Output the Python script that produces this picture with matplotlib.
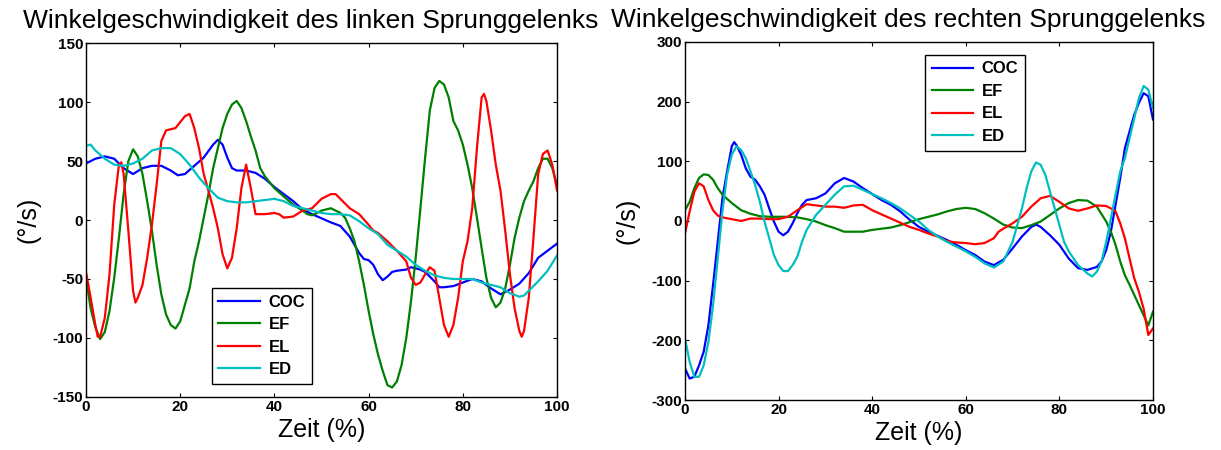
import matplotlib
matplotlib.use("Agg")
import matplotlib.pyplot as plt

plt.rcParams['font.family'] = ['Liberation Sans', 'DejaVu Sans']
plt.rcParams['axes.unicode_minus'] = False

# ---- Left ankle angular velocity (deg/s) over gait cycle (%) ----
l_coc_x = [0, 2, 4, 6, 8, 10, 12, 14, 16, 18, 19.5, 21, 23, 25, 27, 28, 29, 30, 31, 32, 34, 36, 38, 40,
           42, 44, 46, 48, 50, 52, 54, 56, 58, 59, 60, 61, 62, 63, 64, 65, 66, 68, 69, 71, 72, 74, 75, 76,
           78, 80, 82, 84, 86, 88, 90, 92, 94, 96, 98, 100]
l_coc_y = [48, 52, 54, 52, 44, 39, 44, 46, 46, 42, 38, 39, 46, 53, 64, 68, 64, 53, 44, 42, 42, 40, 35, 28,
           22, 16, 9, 5, 1.5, -2, -5, -14, -28, -33, -34, -38, -46, -51, -48, -44, -43, -42, -40, -42, -44,
           -52, -57, -57, -56, -53, -50, -52, -58, -63, -59, -54, -45, -32, -26, -20]

l_ef_x = list(range(0, 39)) + [40, 42, 44, 46, 47, 48, 50, 52, 54, 55] + list(range(56, 101))
l_ef_y = [-49, -75, -91, -101, -95, -77, -49, -15, 22, 50, 60, 54, 39, 16, -9, -38, -63, -80, -89, -92,
          -86, -72, -58, -35, -18, 2, 22, 44, 61, 78, 90, 98, 101, 95, 84, 71, 59, 44, 37,
          27, 20, 13, 8, 5, 4, 8, 10, 6, 2,
          -7, -18, -35, -55, -77, -97, -114, -128, -140, -142, -137, -123, -100, -69, -32, 10, 53, 93,
          112, 118, 115, 104, 84, 76, 64, 47, 27, 2, -24, -49, -66, -74, -70, -58, -38, -15, 2, 16, 25,
          33, 44, 52, 52, 44, 30]

l_el_x = [0, 1, 2, 2.5, 3, 4, 5, 6, 7, 7.5, 8, 9, 10, 10.5, 11, 12, 13, 14, 15, 16, 17, 18, 19, 20, 21,
          22, 23, 24, 25, 26, 27, 28, 29, 30, 31, 32, 33, 34, 35, 36, 38, 40, 41, 42, 44, 46, 48, 50, 52,
          53, 54, 56, 58, 60, 61, 62, 64, 66, 68, 69, 70, 71, 72, 73, 74, 75, 76, 77, 78, 79, 80, 81, 82,
          83, 84, 84.5, 85, 86, 87, 88, 89, 90, 91, 92, 92.5, 93, 94, 95, 96, 97, 98, 99, 100]
l_el_y = [-44, -66, -89, -99, -99, -83, -46, 13, 47, 49, 39, -9, -60, -70, -66, -55, -32, -4, 30, 67,
          76, 77, 78, 83, 88, 90, 78, 61, 39, 25, 10, -7, -29, -41, -32, -7, 27, 47, 27, 5, 5, 6, 5, 2,
          3, 8, 10, 18, 22, 22, 18, 10, 5, -4, -9, -11, -18, -26, -35, -49, -55, -53, -46, -40, -43,
          -66, -89, -99, -89, -66, -35, -18, 10, 61, 104, 107, 101, 76, 47, 25, -9, -46, -75, -94, -99,
          -94, -66, -15, 39, 56, 59, 47, 25]

l_ed_x = [0, 1, 2, 4, 6, 8, 10, 12, 14, 16, 18, 20, 22, 24, 26, 28, 30, 32, 34, 36, 38, 40, 42, 44, 46,
          48, 50, 52, 54, 56, 58, 60, 62, 64, 66, 68, 70, 72, 74, 76, 78, 80, 82, 84, 86, 88, 90, 92, 93,
          94, 96, 98, 100]
l_ed_y = [63, 64, 59, 52, 47, 46, 48, 52, 59, 61, 61, 56, 47, 36, 27, 19, 16, 15, 15, 16, 17, 18, 16,
          12, 10, 8, 6, 5, 5, 4, -1, -7, -12, -21, -26, -31, -38, -43, -47, -49, -50, -50, -50, -53,
          -55, -57, -62, -65, -64, -60, -52, -43, -30]

# ---- Right ankle angular velocity (deg/s) over gait cycle (%) ----
r_coc_x = [0, 1, 2, 3, 4, 5, 6, 7, 8, 9, 10, 10.5, 11, 12, 13, 14, 15, 16, 17, 18, 19, 20, 21, 22, 23,
           24, 25, 26, 28, 30, 32, 34, 36, 38, 40, 42, 44, 46, 48, 50, 52, 54, 56, 58, 60, 62, 64, 66,
           68, 70, 72, 74, 75, 76, 78, 80, 82, 84, 86, 88, 89, 90, 91, 92, 93, 94, 95, 96, 97, 98, 99,
           100]
r_coc_y = [-247, -264, -261, -242, -219, -175, -107, -35, 38, 83, 125, 132, 127, 111, 88, 74, 69, 58,
           44, 21, -1, -18, -24, -18, -4, 13, 27, 35, 38, 46, 63, 72, 66, 55, 45, 35, 27, 16, 2, -10,
           -18, -25, -32, -40, -49, -57, -68, -74, -65, -46, -26, -10, -6, -10, -24, -40, -63, -79, -82,
           -77, -68, -49, -18, 27, 72, 122, 150, 178, 198, 214, 209, 170]

r_ef_x = [0, 1, 2, 3, 4, 5, 6, 7, 8, 10, 12, 14, 16, 18, 20, 22, 24, 26, 28, 30, 32, 34, 36, 38, 40,
          42, 44, 46, 48, 50, 52, 54, 56, 58, 60, 62, 64, 66, 68, 70, 72, 74, 76, 78, 80, 82, 84, 86,
          88, 90, 91, 92, 93, 94, 95, 96, 97, 98, 99, 100]
r_ef_y = [18, 32, 55, 72, 78, 77, 69, 55, 44, 30, 18, 12, 8, 7, 7, 7, 6, 3, -1, -7, -12, -18, -18,
          -18, -15, -13, -11, -7, -2, 3, 7, 11, 16, 20, 22, 20, 13, 4, -6, -11, -12, -7, -1, 10, 21,
          30, 35, 34, 24, -1, -18, -40, -68, -91, -107, -124, -141, -158, -175, -152]

r_el_x = [0, 1, 2, 3, 4, 5, 6, 7, 8, 10, 12, 14, 16, 18, 20, 22, 24, 26, 28, 30, 32, 34, 36, 38, 40,
          42, 44, 46, 48, 50, 52, 54, 56, 58, 60, 62, 64, 66, 67, 68, 70, 72, 74, 76, 78, 80, 82, 84,
          86, 88, 90, 91, 92, 93, 94, 95, 96, 97, 98, 99, 100]
r_el_y = [-21, 16, 49, 63, 58, 35, 18, 9, 6, 3, 0, 4, 4, 3, 3, 7, 18, 28, 26, 24, 24, 22, 26, 27, 18,
          11, 4, -3, -10, -15, -21, -26, -34, -36, -37, -39, -37, -29, -18, -13, -4, 7, 24, 38, 42, 32,
          21, 17, 21, 26, 25, 21, 16, -4, -29, -63, -96, -119, -147, -191, -180]

r_ed_x = [0, 1, 2, 3, 4, 5, 6, 7, 8, 9, 10, 11, 12, 13, 14, 15, 16, 17, 18, 19, 20, 21, 22, 23, 24,
          25, 26, 28, 30, 32, 34, 36, 38, 40, 42, 44, 46, 48, 50, 52, 54, 56, 58, 60, 62, 64, 66, 68,
          70, 72, 73, 74, 75, 76, 77, 78, 79, 80, 81, 82, 84, 86, 87, 88, 89, 90, 91, 92, 93, 94, 95,
          96, 97, 98, 99, 100]
r_ed_y = [-197, -236, -261, -261, -242, -203, -141, -63, 16, 77, 111, 125, 119, 105, 83, 60, 32, -1,
          -29, -57, -74, -84, -84, -74, -60, -35, -15, 10, 27, 44, 58, 59, 52, 45, 38, 30, 21, 10, -1,
          -15, -26, -35, -43, -51, -60, -71, -78, -68, -35, 21, 55, 83, 98, 94, 77, 49, 21, -7, -35,
          -51, -74, -88, -93, -85, -68, -35, 4, 44, 83, 105, 139, 172, 206, 226, 220, 189]

series_names = ["COC", "EF", "EL", "ED"]
series_colors = ["#0000ff", "#008000", "#ff0000", "#00bfbf"]

titles = ["Winkelgeschwindigkeit des linken Sprunggelenks",
          "Winkelgeschwindigkeit des rechten Sprunggelenks"]
x_label = "Zeit (%)"
y_label = "(°/s)"
left_yticks = [-150, -100, -50, 0, 50, 100, 150]
right_yticks = [-300, -200, -100, 0, 100, 200, 300]
xticks = [0, 20, 40, 60, 80, 100]

fig = plt.figure(figsize=(12.21, 4.5), dpi=100)
ax_l = fig.add_axes([0.0704, 0.118, 0.3858, 0.786])
ax_r = fig.add_axes([0.561, 0.111, 0.3833, 0.796])

left_data = [(l_coc_x, l_coc_y), (l_ef_x, l_ef_y), (l_el_x, l_el_y), (l_ed_x, l_ed_y)]
right_data = [(r_coc_x, r_coc_y), (r_ef_x, r_ef_y), (r_el_x, r_el_y), (r_ed_x, r_ed_y)]

def style_axes(ax, data, yticks, title, title_x, legend_anchor):
    for (xs, ys), name, col in zip(data, series_names, series_colors):
        ax.plot(xs, ys, color=col, lw=1.6, label=name)
    ax.set_xlim(0, 100)
    ax.set_ylim(yticks[0], yticks[-1])
    ax.set_xticks(xticks)
    ax.set_yticks(yticks)
    ax.tick_params(direction='in', length=3, width=0.8, top=True, right=True,
                   labelsize=11, pad=2)
    for lab in ax.get_xticklabels() + ax.get_yticklabels():
        lab.set_fontweight('bold')
    for sp in ax.spines.values():
        sp.set_linewidth(1.0)
    ax.set_xlabel(x_label, fontsize=18, labelpad=3)
    ax.set_ylabel(y_label, fontsize=18, labelpad=9)
    ax.set_title(title, fontsize=19, pad=11, x=title_x)
    leg = ax.legend(loc='upper left', bbox_to_anchor=legend_anchor, fancybox=False,
                    edgecolor='black', framealpha=1, prop={'weight': 'bold', 'size': 12},
                    handlelength=2.5, handletextpad=0.5, labelspacing=0.45,
                    borderpad=0.4, borderaxespad=0)
    leg.get_frame().set_linewidth(1.0)

style_axes(ax_l, left_data, left_yticks, titles[0], 0.478, (0.267, 0.308))
style_axes(ax_r, right_data, right_yticks, titles[1], 0.476, (0.513, 0.964))

fig.savefig("out.png", dpi=100)
